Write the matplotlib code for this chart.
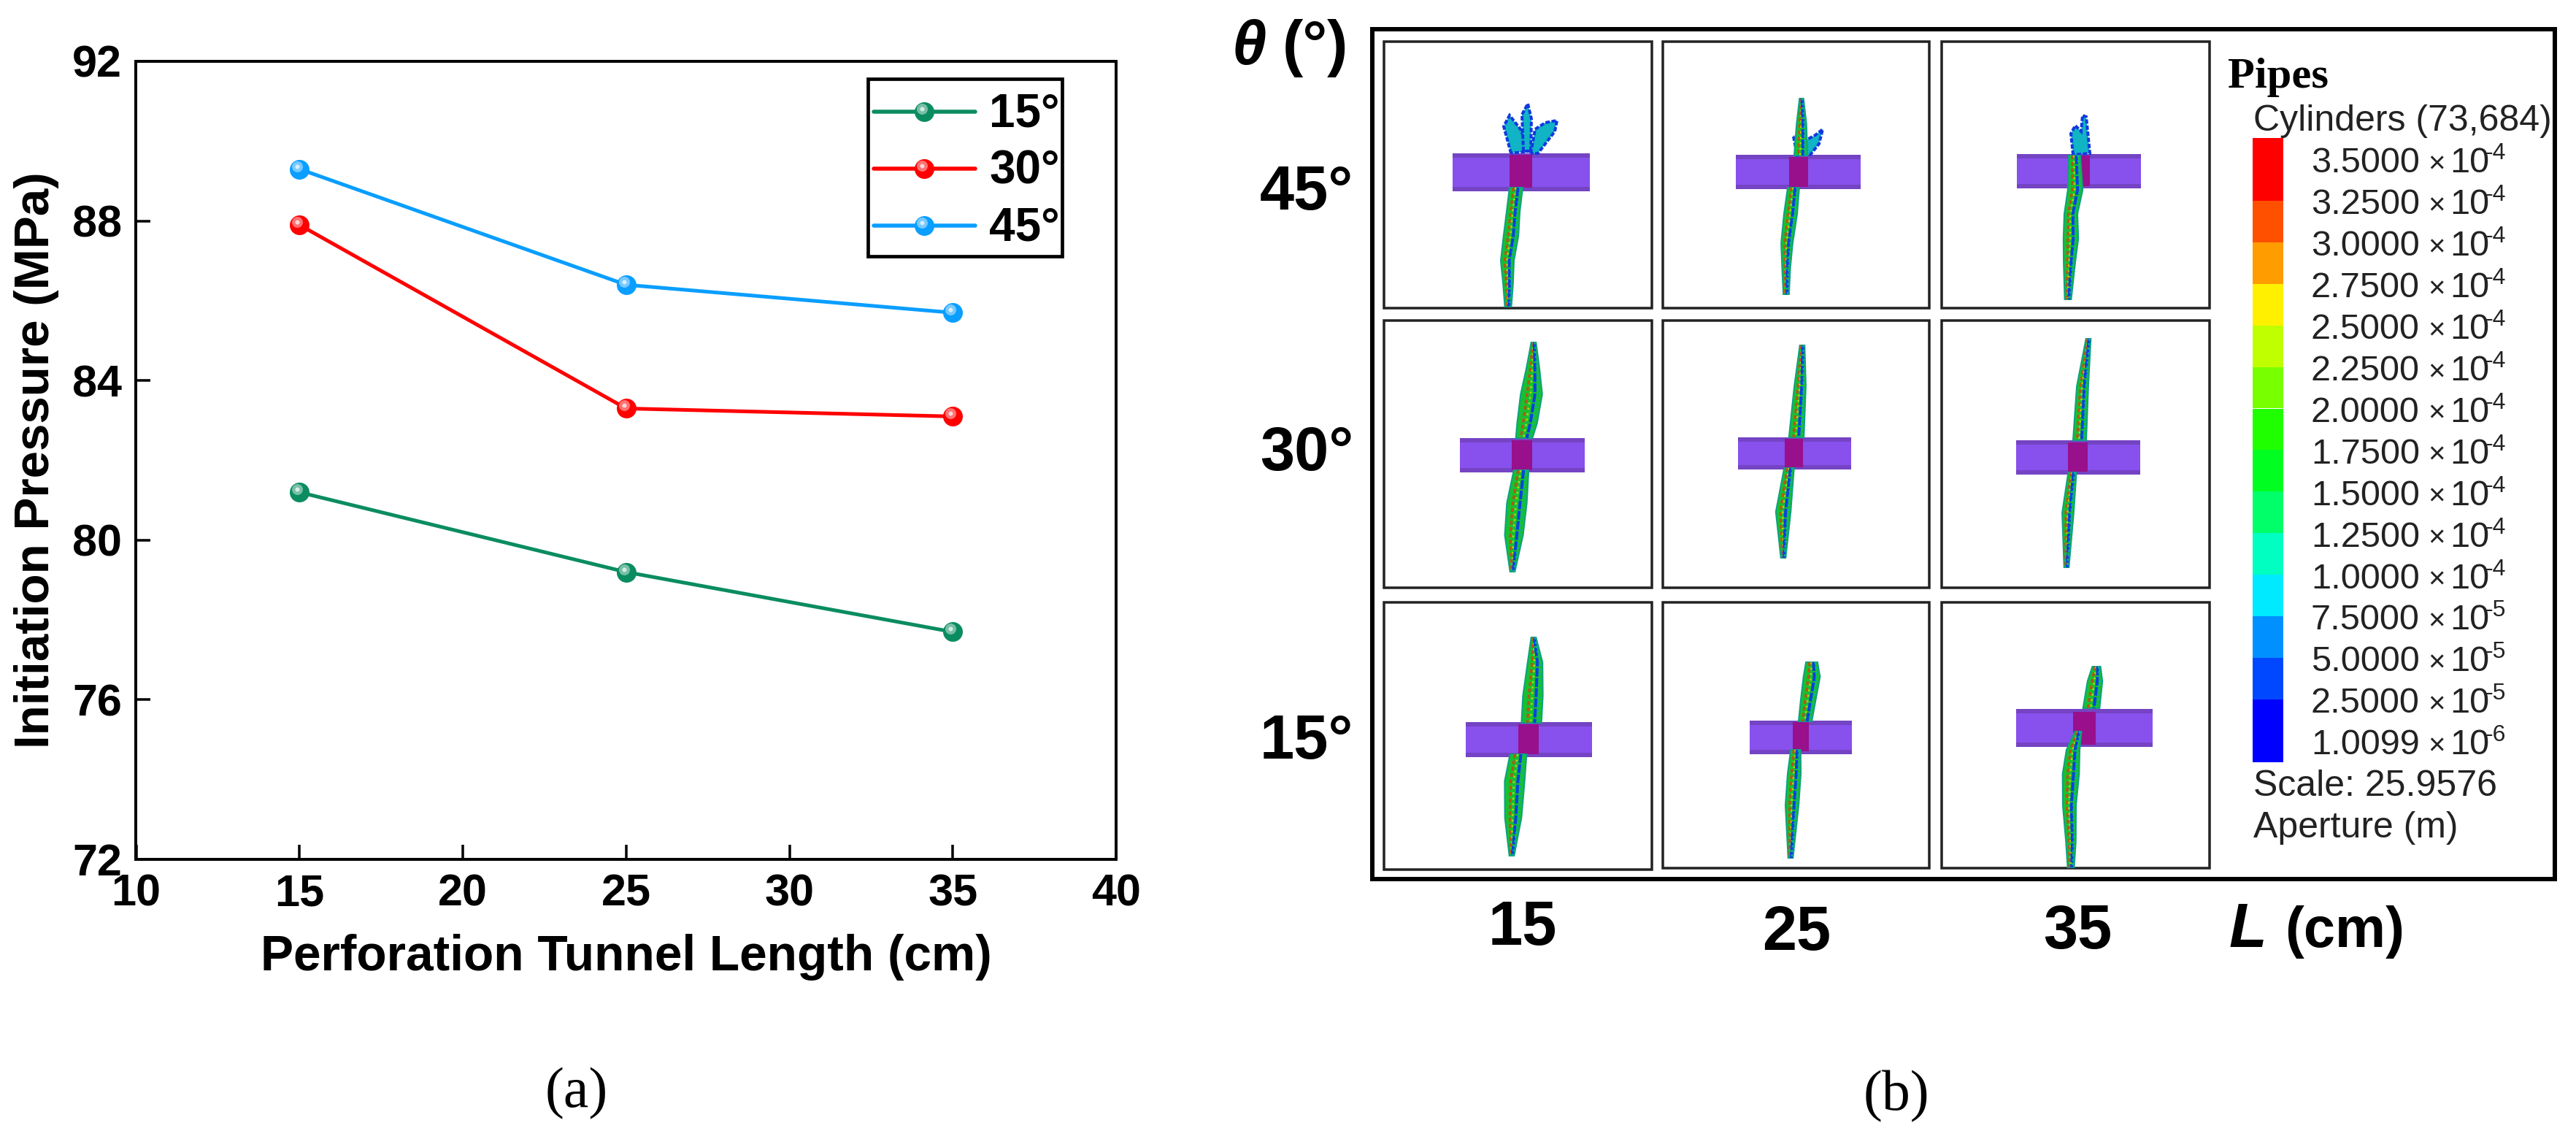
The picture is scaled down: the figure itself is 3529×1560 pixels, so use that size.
import matplotlib
matplotlib.use('Agg')
import matplotlib.pyplot as plt
from matplotlib.patches import Rectangle, Polygon
from matplotlib.transforms import offset_copy

plt.rcParams['font.family'] = ['Liberation Sans', 'DejaVu Sans']

# данные панели (a)
lengths = [15, 25, 35]
p_15 = [81.2, 79.2, 77.7]
p_30 = [87.9, 83.3, 83.1]
p_45 = [89.3, 86.4, 85.7]
legend_labels = ['15°', '30°', '45°']
series_colors = ['#0a8c60', '#ff0000', '#0a9eff']
xticks = [10, 15, 20, 25, 30, 35, 40]
yticks = [72, 76, 80, 84, 88, 92]

# панель (b): подписи и шкала
theta_labels = ['45°', '30°', '15°']
length_labels = ['15', '25', '35']
scale_mantissa = ['3.5000', '3.2500', '3.0000', '2.7500', '2.5000', '2.2500', '2.0000',
                  '1.7500', '1.5000', '1.2500', '1.0000', '7.5000', '5.0000', '2.5000', '1.0099']
scale_exp = ['-4', '-4', '-4', '-4', '-4', '-4', '-4', '-4', '-4', '-4', '-4', '-5', '-5', '-5', '-6']
scale_colors = ['#ff0000', '#ff5000', '#ff9c00', '#fff000', '#c0ff00', '#78ff00', '#20ff00',
                '#00ff20', '#00ff68', '#00ffc0', '#00eaff', '#0090ff', '#0048ff', '#0000ff']

# рамки ячеек (x0, x1, y0, y1), пиксели
cells = [
    (1896, 2263, 57, 422), (2278, 2643, 57, 422), (2660, 3027, 57, 422),
    (1896, 2263, 439, 805), (2278, 2643, 439, 805), (2660, 3027, 439, 805),
    (1896, 2263, 825, 1191), (2278, 2643, 825, 1189), (2660, 3027, 825, 1189),
]
# цилиндр (x0, x1, y0, y1) и красная часть
pipes = [
    (1990, 2178, 210, 262), (2378, 2549, 212, 259), (2763, 2933, 211, 258),
    (2000, 2171, 600, 647), (2381, 2536, 599, 643), (2762, 2932, 603, 650),
    (2008, 2181, 989, 1037), (2397, 2537, 987, 1033), (2762, 2949, 971, 1023),
]
pipe_red = [
    (2068, 2099, 212, 257), (2451, 2477, 215, 256), (2834, 2863, 213, 255),
    (2071, 2099, 603, 644), (2445, 2470, 601, 640), (2833, 2860, 606, 646),
    (2080, 2108, 992, 1033), (2456, 2478, 989, 1029), (2840, 2871, 975, 1020),
]
# трещины: точки (x, y, полуширина)
stems = [
    [(2077, 257, 7), (2073, 290, 7), (2070, 323, 8), (2065, 357, 7), (2066, 390, 5), (2066, 420, 3)],
    [(2457, 257, 6), (2453, 293, 7), (2448, 333, 6), (2447, 367, 4), (2447, 403, 2.5)],
    [(2468, 135, 1.5), (2468, 170, 5), (2467, 213, 7)],
    [(2842, 213, 6), (2843, 260, 8), (2837, 293, 7), (2837, 327, 8), (2835, 360, 6), (2833, 410, 3)],
    [(2101, 469, 2), (2100, 505, 7), (2098, 540, 12), (2092, 580, 11), (2088, 600, 9)],
    [(2084, 644, 8), (2078, 689, 11), (2074, 733, 10), (2072, 783, 2)],
    [(2469, 473, 2), (2466, 529, 6), (2461, 599, 8)],
    [(2451, 641, 5), (2443, 701, 8), (2443, 764, 2)],
    [(2861, 464, 2), (2853, 529, 6), (2849, 603, 7)],
    [(2839, 647, 4), (2833, 702, 6), (2831, 777, 2)],
    [(2101, 873, 2), (2103, 907, 8), (2100, 953, 11), (2098, 990, 11)],
    [(2080, 1033, 9), (2075, 1070, 11), (2073, 1120, 9), (2071, 1172, 2)],
    [(2482, 907, 6), (2482, 927, 9), (2477, 960, 8), (2473, 988, 7)],
    [(2460, 1027, 5), (2458, 1060, 7), (2455, 1103, 7), (2453, 1175, 2)],
    [(2872, 913, 4), (2870, 933, 8), (2865, 970, 9)],
    [(2847, 1002, 3), (2840, 1027, 7), (2837, 1060, 9), (2835, 1103, 7), (2837, 1153, 5), (2837, 1188, 3)],
]
leaves = [
    [(2070, 210), (2060, 173), (2068, 158), (2083, 177), (2095, 207)],
    [(2087, 207), (2085, 157), (2093, 142), (2098, 163), (2097, 207)],
    [(2097, 210), (2103, 177), (2117, 168), (2133, 165), (2130, 180), (2107, 210)],
    [(2457, 187), (2462, 213), (2472, 210), (2467, 190)],
    [(2473, 212), (2472, 193), (2487, 185), (2497, 177), (2492, 197), (2480, 212)],
    [(2840, 212), (2837, 183), (2843, 172), (2851, 180), (2853, 158), (2858, 160), (2863, 210)],
]

W, H = 3530, 1560
PX = 0.72  # пиксель -> пункт при dpi=100

fig = plt.figure(figsize=(W / 100, H / 100), dpi=100)

# Панель (a)
ax = fig.add_axes([186.5 / W, 1 - 1177 / H, 1342.5 / W, 1093 / H])
for vals, col in zip([p_15, p_30, p_45], series_colors):
    ax.plot(lengths, vals, color=col, lw=5 * PX, marker='o', ms=27 * PX, mew=0, solid_capstyle='round')
    hl = offset_copy(ax.transData, fig=fig, x=-3 * PX, y=4 * PX, units='points')
    ax.plot(lengths, vals, ls='none', marker='o', ms=15 * PX, mew=0, color='white', alpha=0.45, transform=hl)
    ax.plot(lengths, vals, ls='none', marker='o', ms=6 * PX, mew=0, color='white', alpha=0.7, transform=hl)
ax.set_xlim(10, 40)
ax.set_ylim(72, 92)
ax.set_xticks(xticks)
ax.set_yticks(yticks)
ax.tick_params(direction='in', length=20 * PX, width=3.5 * PX, labelsize=44, pad=14)
for lab in ax.get_xticklabels() + ax.get_yticklabels():
    lab.set_fontweight('bold')
for s in ax.spines.values():
    s.set_linewidth(4 * PX)
ax.set_xlabel('Perforation Tunnel Length (cm)', fontsize=48.7, fontweight='bold', va='center')
ax.xaxis.set_label_coords(0.5, -0.1226)
ax.set_ylabel('Initiation Pressure (MPa)', fontsize=48.5, fontweight='bold', va='center')
ax.yaxis.set_label_coords(-0.1017, 0.5)

# Слой в пикселях: легенда и панель (b)
ov = fig.add_axes([0, 0, 1, 1], zorder=5)
ov.set_xlim(0, W)
ov.set_ylim(H, 0)
ov.axis('off')

ov.add_patch(Rectangle((1189, 108), 266, 243, fc='white', ec='black', lw=4.7 * PX))
for y, lab, col in zip([152.7, 231, 309], legend_labels, series_colors):
    ov.plot([1197, 1336], [y, y], color=col, lw=5.5 * PX, solid_capstyle='round')
    ov.plot([1266], [y], marker='o', ms=27 * PX, mew=0, color=col)
    ov.plot([1263], [y - 4], marker='o', ms=15 * PX, mew=0, color='white', alpha=0.45)
    ov.plot([1263], [y - 4], marker='o', ms=6 * PX, mew=0, color='white', alpha=0.7)
    ov.text(1355, y + 21, lab, fontsize=46, fontweight='bold', va='baseline')

ov.text(790, 1516, '(a)', fontsize=56, family=['Liberation Serif'], ha='center', va='baseline')
ov.text(2598, 1520, '(b)', fontsize=56, family=['Liberation Serif'], ha='center', va='baseline')

# внешняя рамка и ячейки
ov.add_patch(Rectangle((1880.5, 40), 1620, 1164, fc='white', ec='black', lw=6 * PX))
for x0, x1, y0, y1 in cells:
    ov.add_patch(Rectangle((x0, y0), x1 - x0, y1 - y0, fc='white', ec='#222222', lw=3.5 * PX))

for (x0, x1, y0, y1), (rx0, rx1, ry0, ry1) in zip(pipes, pipe_red):
    ov.add_patch(Rectangle((x0, y0), x1 - x0, y1 - y0, fc='#8850ec', ec='none'))
    ov.add_patch(Rectangle((x0, y0), x1 - x0, 6, fc='#7444c4', ec='none'))
    ov.add_patch(Rectangle((x0, y1 - 6), x1 - x0, 6, fc='#7444c4', ec='none'))
    ov.add_patch(Rectangle((rx0, ry0), rx1 - rx0, ry1 - ry0, fc='#98108c', ec='none'))

for pts in leaves:
    ov.add_patch(Polygon(pts, closed=True, fc='#10b4c4', ec='#1038e0', lw=4 * PX, ls=(0, (1.5, 0.6))))

for pts in stems:
    left = [(x - w * 1.15 - 1, y) for x, y, w in pts]
    right = [(x + w * 1.15 + 1, y) for x, y, w in pts]
    ys = [y for x, y, w in pts]
    ov.add_patch(Polygon(left + right[::-1], closed=True, fc='#18c030', ec='#10a080', lw=2 * PX))
    # пятна: красная полоса слева, жёлтая и синяя правее
    ov.plot([x - 0.5 * w for x, y, w in pts], ys, color='#c84a10', lw=3.5 * PX, ls=(0, (1.5, 1)), alpha=0.85)
    ov.plot([x - 0.1 * w for x, y, w in pts], ys, color='#d8e000', lw=2.5 * PX, ls=(0, (1, 2)), alpha=0.8)
    ov.plot([x + 0.4 * w for x, y, w in pts], ys, color='#0a40e0', lw=4 * PX, ls=(0, (3, 0.5)))
    ov.plot([x + 0.8 * w for x, y, w in pts], ys, color='#08b0a0', lw=2.5 * PX, ls=(0, (1, 1.5)))

# шкала
bar_edges = [189] + [275 + 56.9 * i for i in range(13)] + [1044]
for i, col in enumerate(scale_colors):
    ov.bar(3107, bar_edges[i + 1] - bar_edges[i], width=41.5, bottom=bar_edges[i], color=col, lw=0)
for i, (m, e) in enumerate(zip(scale_mantissa, scale_exp)):
    y = 219.5 + 56.9 * i
    ov.text(3166, y + 17, m, fontsize=35, va='baseline', color='#222222')
    ov.text(3326, y + 17, '×', fontsize=29, va='baseline', color='#222222')
    ov.text(3356, y + 17, '10', fontsize=35, va='baseline', color='#222222')
    ov.text(3405, y - 1, e, fontsize=23, va='baseline', color='#222222')

ov.text(3052, 120, 'Pipes', fontsize=43.5, fontweight='bold', family=['Liberation Serif'], va='baseline')
ov.text(3087, 179, 'Cylinders (73,684)', fontsize=36, va='baseline', color='#222222')
ov.text(3087, 1090, 'Scale: 25.9576', fontsize=36, va='baseline', color='#222222')
ov.text(3087, 1147, 'Aperture (m)', fontsize=36, va='baseline', color='#222222')

# подписи осей (b)
for y, lab in zip([265, 622, 1017], theta_labels):
    ov.text(1790, y, lab, fontsize=61, fontweight='bold', ha='center', va='center')
for x, y, lab in zip([2086, 2461, 2846], [1272, 1279, 1277], length_labels):
    ov.text(x, y, lab, fontsize=61, fontweight='bold', ha='center', va='center')
ov.text(1688, 88, 'θ', fontsize=61, fontweight='bold', style='italic', va='baseline')
ov.text(1757, 88, '(°)', fontsize=61, fontweight='bold', va='baseline')
ov.text(3054, 1297, 'L', fontsize=61, fontweight='bold', style='italic', va='baseline')
ov.text(3130, 1297, '(cm)', fontsize=56, fontweight='bold', va='baseline')

fig.savefig('out.png', dpi=100, facecolor='white')
